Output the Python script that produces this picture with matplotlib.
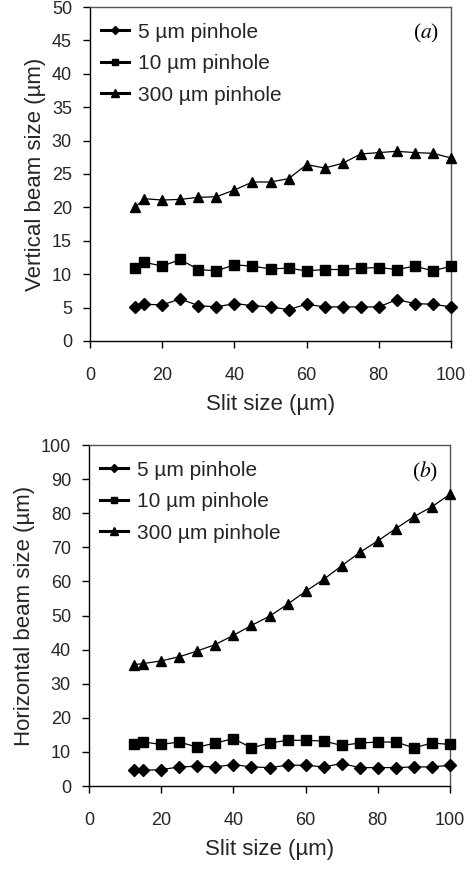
import matplotlib
matplotlib.use("Agg")
import matplotlib.pyplot as plt
from matplotlib.lines import Line2D

plt.rcParams['font.family'] = ['Liberation Sans', 'DejaVu Sans']

slit = [12.5, 15, 20, 25, 30, 35, 40, 45, 50, 55, 60, 65, 70, 75, 80, 85, 90, 95, 100]

vert_5 = [5.1, 5.5, 5.4, 6.3, 5.3, 5.1, 5.6, 5.3, 5.1, 4.7, 5.5, 5.1, 5.1, 5.1, 5.1, 6.2, 5.6, 5.5, 5.1]
vert_10 = [10.9, 11.8, 11.2, 12.2, 10.7, 10.5, 11.4, 11.2, 10.8, 10.9, 10.5, 10.7, 10.7, 10.9, 11.0, 10.7, 11.2, 10.5, 11.2]
vert_300 = [20.0, 21.3, 21.1, 21.2, 21.5, 21.6, 22.6, 23.8, 23.8, 24.3, 26.4, 25.9, 26.6, 28.0, 28.2, 28.4, 28.2, 28.1, 27.4]

horz_5 = [4.6, 4.6, 4.8, 5.6, 5.8, 5.6, 6.3, 5.6, 5.4, 6.1, 6.1, 5.6, 6.6, 5.4, 5.4, 5.4, 5.6, 5.6, 6.1]
horz_10 = [12.4, 12.9, 12.2, 12.9, 11.4, 12.6, 13.9, 11.2, 12.6, 13.4, 13.4, 13.2, 11.9, 12.6, 12.9, 12.9, 11.2, 12.6, 12.2]
horz_300 = [35.6, 35.9, 36.7, 37.9, 39.6, 41.5, 44.2, 47.1, 49.8, 53.3, 57.1, 60.6, 64.6, 68.5, 71.9, 75.5, 79.0, 81.9, 85.6]

labels = ["5 \u00b5m pinhole", "10 \u00b5m pinhole", "300 \u00b5m pinhole"]
xlabel = "Slit size (\u00b5m)"
ylabels = ["Vertical beam size (\u00b5m)", "Horizontal beam size (\u00b5m)"]
tags = [r"($\it{a}$)", r"($\it{b}$)"]
y_max = [50, 100]
y_step = [5, 10]

markers = ["D", "s", "^"]
msizes = [6, 6.5, 7.5]
txtcol = '#262626'

fig = plt.figure(figsize=(4.72, 8.75), dpi=100)
ax1 = fig.add_axes([0.1907, 0.6103, 0.7648, 0.3817])
ax2 = fig.add_axes([0.1886, 0.1017, 0.7648, 0.3897])

panels = [(ax1, [vert_5, vert_10, vert_300]), (ax2, [horz_5, horz_10, horz_300])]

for i, (ax, series) in enumerate(panels):
    handles = []
    for vals, m, ms, lab in zip(series, markers, msizes, labels):
        ax.plot(slit, vals, color='black', linewidth=0.9, marker=m, markersize=ms,
                markerfacecolor='black', markeredgecolor='black', clip_on=False, zorder=3)
        handles.append(Line2D([], [], color='black', linewidth=2.2, marker=m,
                              markersize=ms * 0.7, label=lab))
    ax.legend(handles=handles, loc='upper left', frameon=False, fontsize=15,
              handlelength=1.35, handletextpad=0.4, labelspacing=0.6,
              borderaxespad=0.35, borderpad=0.4, labelcolor=txtcol,
              bbox_to_anchor=(-0.012, 1.0))

    ax.set_xlim(0, 100)
    ax.set_ylim(0, y_max[i])
    ax.set_xticks(range(0, 101, 20))
    ax.set_yticks(range(0, y_max[i] + 1, y_step[i]))
    ax.tick_params(axis='both', direction='out', length=5, width=1, labelsize=13,
                   labelcolor=txtcol, color='black')
    ax.tick_params(axis='x', pad=14)
    ax.tick_params(axis='y', pad=8)
    for s in ['left', 'bottom']:
        ax.spines[s].set_color('black')
        ax.spines[s].set_linewidth(1.0)
    for s in ['top', 'right']:
        ax.spines[s].set_color('#555555')
        ax.spines[s].set_linewidth(1.0)
    ax.set_xlabel(xlabel, fontsize=16, color=txtcol, labelpad=7)
    ax.set_ylabel(ylabels[i], fontsize=16, color=txtcol, labelpad=4)
    ax.text(0.968, 0.922, tags[i], transform=ax.transAxes, ha='right', va='center',
            fontsize=15.5, family='Liberation Serif', math_fontfamily='stix')

fig.savefig("out.png", dpi=100)
